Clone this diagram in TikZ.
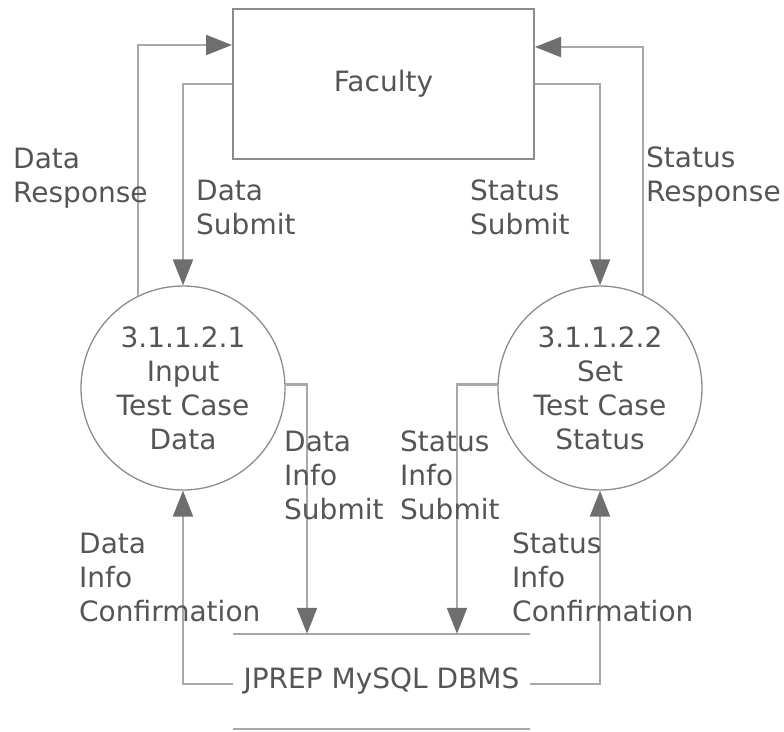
\documentclass[tikz,border=0pt]{standalone}
\usepackage{fontspec}
\setmainfont{DejaVu Sans}
\usetikzlibrary{arrows.meta}
\definecolor{txt}{HTML}{555555}
\definecolor{linec}{HTML}{A8A8A8}
\definecolor{arrc}{HTML}{6E6E6E}
\definecolor{shapec}{HTML}{8C8C8C}
\begin{document}
\begin{tikzpicture}[x=1pt,y=-1pt,
  every node/.style={text=txt,font=\fontsize{28}{34}\selectfont},
  entity/.style={draw=shapec,line width=2pt,minimum width=301pt,minimum height=150pt,inner sep=0pt},
  proc/.style={circle,draw=shapec,line width=1.3pt,minimum size=204pt,inner sep=0pt,align=center},
  store/.style={minimum width=297pt,minimum height=95pt,inner sep=0pt},
  flow/.style={draw=linec,line width=2.2pt,-{Triangle[length=26pt,width=20pt,color=arrc,fill=arrc]}},
  lbl/.style={anchor=base west,align=left,inner sep=0pt}]
\useasboundingbox (0,0) rectangle (784,731);

\node[entity] (fac) at (383.5,84) {Faculty};
\node[proc] (c1) at (183,388) {3.1.1.2.1\\Input\\Test Case\\Data};
\node[proc] (c2) at (600,388) {3.1.1.2.2\\Set\\Test Case\\Status};
\node[store] (db) at (381.5,681.5) {JPREP MySQL DBMS};
\draw[linec,line width=2.2pt] (db.north west) -- (db.north east);
\draw[linec,line width=2.2pt] (db.south west) -- (db.south east);

\draw[flow] (c1.116) |- ([yshift=39pt]fac.west);
\draw[flow] (fac.west) -| (c1.north);
\draw[flow] (fac.east) -| (c2.north);
\draw[flow] (c2.65) |- ([yshift=37pt]fac.east);
\draw[flow] (c1.2) -| ([xshift=-74.5pt]db.north);
\draw[flow] (c2.178) -| ([xshift=75.5pt]db.north);
\draw[flow] ([yshift=-2.5pt]db.west) -| (c1.south);
\draw[flow] ([yshift=-2.5pt]db.east) -| (c2.south);

\node[lbl] (l1) at (13,202) {Data\\Response};
\node[lbl] (l2) at (196,234) {Data\\Submit};
\node[lbl] (l3) at (470,234) {Status\\Submit};
\node[lbl] (l4) at (646,201) {Status\\Response};
\node[lbl] (l5) at (284,519) {Data\\Info\\Submit};
\node[lbl] (l6) at (400,519) {Status\\Info\\Submit};
\node[lbl] (l7) at (79,621) {Data\\Info\\Confirmation};
\node[lbl] (l8) at (512,621) {Status\\Info\\Confirmation};
\end{tikzpicture}
\end{document}
